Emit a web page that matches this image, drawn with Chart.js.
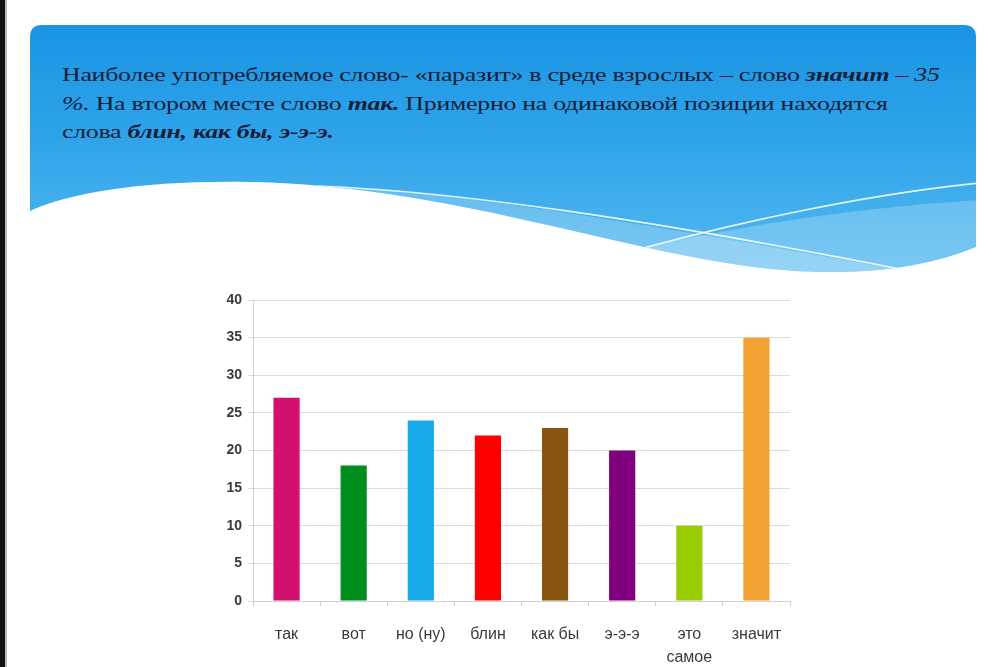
<!DOCTYPE html>
<html>
<head>
<meta charset="utf-8">
<script src="https://cdn.jsdelivr.net/npm/chart.js"></script>
<style>
  html, body { margin: 0; padding: 0; background: #fff; }
  #slide { position: relative; width: 1000px; height: 667px; overflow: hidden; background: #fff; }
  #edge { position: absolute; left: 0; top: 0; width: 5px; height: 667px; background: #111; border-right: 2px solid #bbb; }
  #deco { position: absolute; left: 0; top: 0; }
  #texto {
    position: absolute; left: 62px; top: 61px; width: 700px;
    font-family: "Liberation Serif", "DejaVu Serif", serif; font-size: 19px; line-height: 28.5px;
    color: #142038; white-space: nowrap; letter-spacing: -0.2px;
    transform: scaleX(1.36); transform-origin: 0 0;
  }
  #texto b { font-style: italic; }
  #grafico { position: absolute; left: 0; top: 0; }
</style>
</head>
<body>
<div id="slide">
  <div id="edge"></div>
  <!-- fundo do slide: painel azul com onda -->
  <svg id="deco" width="1000" height="667">
    <defs>
      <linearGradient id="azul" x1="0" y1="0" x2="0" y2="1">
        <stop offset="0" stop-color="#1591e2"/>
        <stop offset="0.45" stop-color="#2ea3ea"/>
        <stop offset="1" stop-color="#5cbdf1"/>
      </linearGradient>
      <clipPath id="painel">
        <path d="M30,37 Q30,25 42,25 H964 Q976,25 976,37 V247 C930,266 850,284 720,262 C580,238 430,186 250,182 C150,180 70,192 30,211 Z"/>
      </clipPath>
    </defs>
    <g clip-path="url(#painel)">
      <rect x="0" y="0" width="1000" height="300" fill="url(#azul)"/>
      <path d="M310,186 C450,190 620,220 900,270 L900,300 L200,300 Z" fill="rgba(255,255,255,0.22)"/>
      <path d="M600,258 C720,228 850,208 980,200 L980,300 L600,300 Z" fill="rgba(255,255,255,0.22)"/>
      <path d="M318,186 C460,192 640,218 900,269" fill="none" stroke="rgba(255,255,255,0.85)" stroke-width="1.6"/>
      <path d="M615,256 C720,226 860,195 980,183" fill="none" stroke="rgba(255,255,255,0.85)" stroke-width="1.6"/>
    </g>
  </svg>
  <div id="texto">
    Наиболее употребляемое слово- «паразит» в среде взрослых – слово <b>значит</b> <i>– 35</i><br>
    <i>%.</i> На втором месте слово <b>так.</b> Примерно на одинаковой позиции находятся<br>
    слова <b>блин, как бы, э-э-э.</b>
  </div>
  <canvas id="grafico" width="1000" height="667"></canvas>
</div>
<script>
// dados do gráfico
const categorias = ['так', 'вот', 'но (ну)', 'блин', 'как бы', 'э-э-э', ['это', 'самое'], 'значит'];
const valores = [27, 18, 24, 22, 23, 20, 10, 35];
const cores = ['#d1106f', '#008f1f', '#18a9ea', '#ff0000', '#8a5510', '#82007f', '#99cc00', '#f2a133'];
const ticksY = [0, 5, 10, 15, 20, 25, 30, 35, 40];

window.addEventListener('DOMContentLoaded', () => {
  const ctx = document.getElementById('grafico').getContext('2d');

  new Chart(ctx, {
    type: 'bar',
    data: {
      labels: categorias,
      datasets: [{
        data: valores,
        backgroundColor: cores,
        borderWidth: 0,
        categoryPercentage: 1,
        barPercentage: 0.39
      }]
    },
    options: {
      responsive: false,
      animation: false,
      layout: { padding: { left: 200, right: 210, top: 300, bottom: 2 } },
      plugins: { legend: { display: false }, tooltip: { enabled: false } },
      scales: {
        y: {
          min: 0,
          max: 40,
          afterBuildTicks: (scale) => { scale.ticks = ticksY.map(v => ({ value: v })); },
          afterFit: (scale) => { scale.width = 53; },
          grid: { color: '#dcdcdc', lineWidth: 1, tickLength: 5 },
          border: { display: true, color: '#d0d0d0' },
          ticks: {
            color: '#3a3a3a',
            padding: 6,
            font: { family: 'Liberation Sans', size: 14, weight: 'bold' }
          }
        },
        x: {
          afterFit: (scale) => { scale.height = 64; },
          grid: { drawOnChartArea: false, drawTicks: true, tickLength: 5, color: '#d0d0d0' },
          border: { display: true, color: '#d0d0d0' },
          ticks: {
            color: '#3a3a3a',
            padding: 17,
            maxRotation: 0,
            font: { family: 'Liberation Sans', size: 16, lineHeight: 1.45 }
          }
        }
      }
    }
  });
});
</script>
</body>
</html>
